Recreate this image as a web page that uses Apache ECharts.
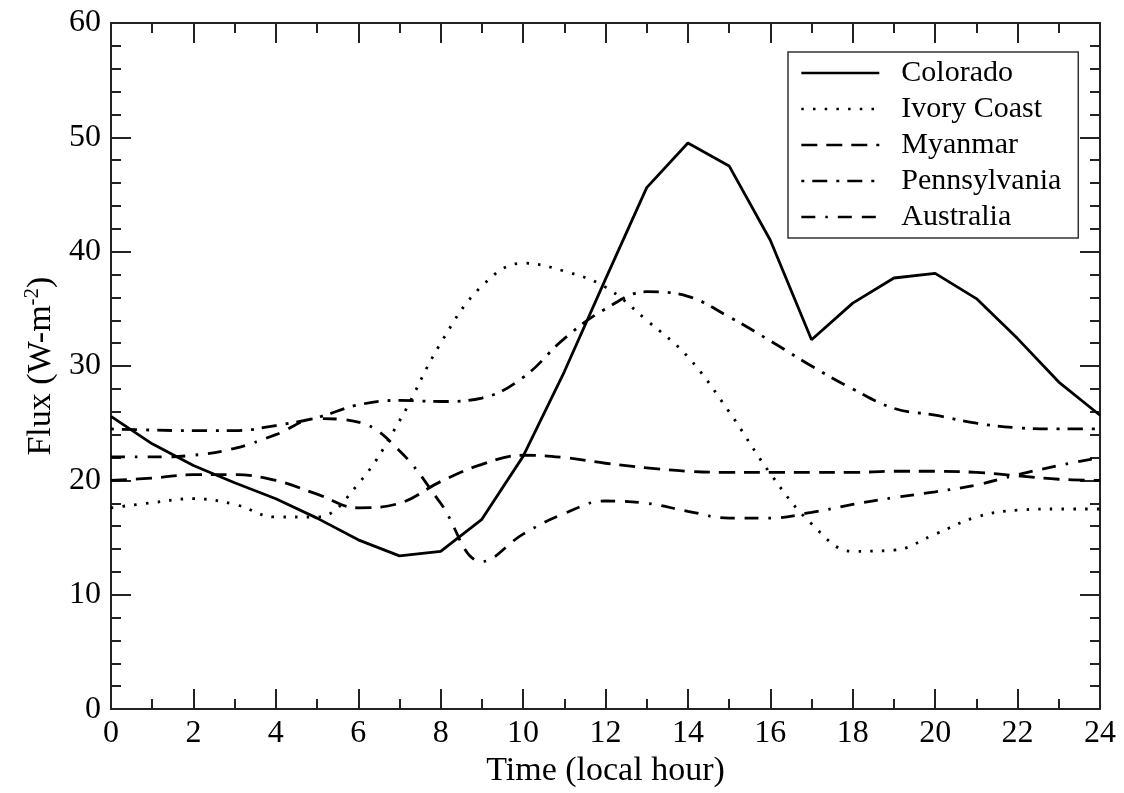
<!DOCTYPE html>
<html>
<head>
<meta charset="utf-8">
<script src="https://cdn.jsdelivr.net/npm/echarts@6/dist/echarts.min.js"></script>
<style>
html,body{margin:0;padding:0;background:#fff;}
#chart{width:1124px;height:793px;}
</style>
</head>
<body>
<div id="chart"></div>
<script>
const hours = [0,1,2,3,4,5,6,7,8,9,10,11,12,13,14,15,16,17,18,19,20,21,22,23,24];
const colorado = [25.6, 23.2, 21.3, 19.8, 18.4, 16.7, 14.8, 13.4, 13.8, 16.6, 22.1, 29.5, 37.6, 45.6, 49.5, 47.5, 41.0, 32.3, 35.5, 37.7, 38.1, 35.9, 32.4, 28.6, 25.7];
const ivoryCoast = [17.6, 18.05, 18.4, 17.9, 16.8, 16.8, 19.7, 25.2, 32.0, 37.0, 39.0, 38.3, 36.9, 34.0, 30.8, 26.0, 20.6, 16.2, 13.8, 13.9, 15.3, 16.8, 17.4, 17.5, 17.5];
const myanmar = [20.0, 20.2, 20.5, 20.5, 20.0, 18.8, 17.6, 18.0, 19.9, 21.4, 22.2, 22.0, 21.5, 21.1, 20.8, 20.7, 20.7, 20.7, 20.7, 20.8, 20.8, 20.7, 20.4, 20.1, 20.0];
const pennsylvania = [24.5, 24.4, 24.35, 24.35, 24.8, 25.5, 26.6, 27.0, 26.9, 27.2, 29.0, 32.4, 35.0, 36.5, 36.1, 34.3, 32.2, 30.0, 28.0, 26.3, 25.7, 25.0, 24.6, 24.5, 24.5];
const australia = [22.05, 22.05, 22.2, 22.8, 24.0, 25.4, 25.1, 22.6, 18.0, 12.9, 15.3, 17.1, 18.2, 18.0, 17.3, 16.7, 16.7, 17.2, 17.9, 18.5, 19.0, 19.6, 20.5, 21.3, 22.0];

const seriesNames = ['Colorado', 'Ivory Coast', 'Myanmar', 'Pennsylvania', 'Australia'];
const seriesValues = [colorado, ivoryCoast, myanmar, pennsylvania, australia];
const dashTypes = ['solid', [2.5, 9.2], [16, 9], [3, 8, 15, 9], [14, 10, 2.5, 10, 14, 10]];
const smoothFlags = [false, 0.4, 0.4, 0.4, 0.4];

const FONT = 'Liberation Serif';
const axisColor = '#222';

function mkX(pos, showLabel, name) {
  return {
    type: 'value', position: pos, min: 0, max: 24, interval: 2,
    name: name || '', nameLocation: 'middle', nameGap: 23,
    nameTextStyle: { fontFamily: FONT, fontSize: 34, color: '#000' },
    axisLine: { show: true, onZero: false, lineStyle: { color: axisColor, width: 2 } },
    axisTick: { show: true, inside: true, length: 20, lineStyle: { color: axisColor, width: 2 } },
    minorTick: { show: true, splitNumber: 2, length: 10, lineStyle: { color: axisColor, width: 2 } },
    axisLabel: { show: showLabel, fontFamily: FONT, fontSize: 32, color: '#000', margin: 8 },
    splitLine: { show: false }
  };
}
function mkY(pos, showLabel, name) {
  return {
    type: 'value', position: pos, min: 0, max: 60, interval: 10,
    name: name || '', nameLocation: 'middle', nameGap: 50,
    nameTextStyle: {
      fontFamily: FONT, fontSize: 34, color: '#000',
      rich: {
        a: { fontFamily: FONT, fontSize: 34, color: '#000' },
        s: { fontFamily: FONT, fontSize: 21, color: '#000', padding: [0, 0, 18, 0] }
      }
    },
    axisLine: { show: true, onZero: false, lineStyle: { color: axisColor, width: 2 } },
    axisTick: { show: true, inside: true, length: 20, lineStyle: { color: axisColor, width: 2 } },
    minorTick: { show: true, splitNumber: 5, length: 10, lineStyle: { color: axisColor, width: 2 } },
    axisLabel: { show: showLabel, fontFamily: FONT, fontSize: 32, color: '#000', margin: 10 },
    splitLine: { show: false }
  };
}

const chart = echarts.init(document.getElementById('chart'), null, { renderer: 'canvas' });
chart.setOption({
  backgroundColor: '#fff',
  animation: false,
  grid: { left: 111, right: 24, top: 23, bottom: 79 },
  xAxis: [mkX('bottom', true, 'Time (local hour)'), mkX('top', false)],
  yAxis: [mkY('left', true, '{a|Flux (W-m}{s|-2}{a|)}'), mkY('right', false)],
  legend: {
    show: true, orient: 'vertical', left: 788, top: 52,
    data: seriesNames,
    itemWidth: 78, itemHeight: 14, itemGap: 6,
    padding: [6, 17, 6, 12],
    borderColor: '#333', borderWidth: 1.5,
    backgroundColor: '#fff',
    itemStyle: { color: 'rgba(0,0,0,0)', borderColor: 'rgba(0,0,0,0)', borderWidth: 0, opacity: 0 },
    lineStyle: { width: 2.6 },
    textStyle: { fontFamily: FONT, fontSize: 30, lineHeight: 30, color: '#000', padding: [0, 0, 0, 17] }
  },
  series: seriesNames.map((nm, i) => ({
    name: nm, type: 'line', xAxisIndex: 0, yAxisIndex: 0,
    data: hours.map((h, j) => [h, seriesValues[i][j]]),
    symbol: 'none', showSymbol: false,
    smooth: smoothFlags[i],
    color: '#000',
    lineStyle: { color: '#000', width: 2.8, type: dashTypes[i] },
    z: 3
  }))
});
</script>
</body>
</html>
